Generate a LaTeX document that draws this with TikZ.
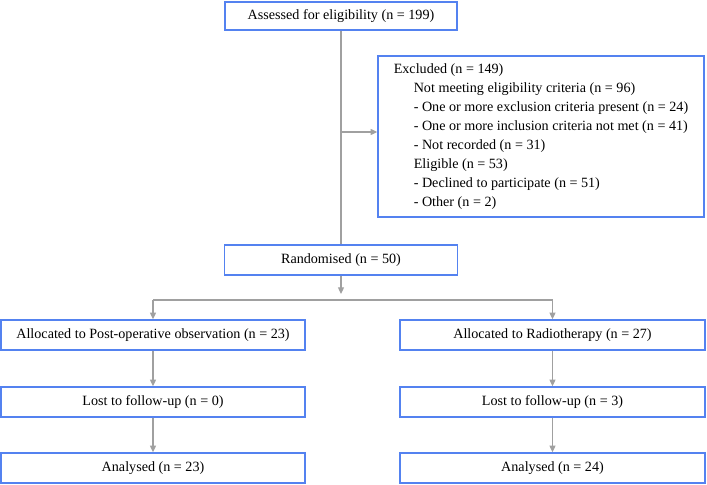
\documentclass[tikz,border=0pt]{standalone}
\usepackage{fontspec}
\setmainfont{Liberation Serif}
\usetikzlibrary{arrows.meta,positioning,calc}
\definecolor{boxblue}{RGB}{84,130,240}
\definecolor{linegray}{RGB}{160,160,160}

\begin{document}
\begin{tikzpicture}[x=0.75pt, y=-0.75pt, font=\fontsize{10.6}{14.25}\selectfont,
  box/.style={draw=boxblue, line width=1.1pt, fill=white, inner sep=0pt, minimum height=22.5pt},
  link/.style={draw=linegray, line width=0.9pt},
  arr/.style={link, -{Triangle[length=5pt,width=4.5pt]}}]
\useasboundingbox (0,0) rectangle (707,485);
\node[box, minimum width=174pt, minimum height=21pt] (assessed) at (341,16)
  {Assessed for eligibility (n = 199)};
\node[box, minimum width=244.5pt, minimum height=120.75pt, align=left]
  (excluded) at (541,136.5)
  {Excluded (n = 149)\\
   \hspace*{15pt}Not meeting eligibility criteria (n = 96)\\
   \hspace*{15pt}- One or more exclusion criteria present (n = 24)\hspace*{11pt}\\
   \hspace*{15pt}- One or more inclusion criteria not met (n = 41)\\
   \hspace*{15pt}- Not recorded (n = 31)\\
   \hspace*{15pt}Eligible (n = 53)\\
   \hspace*{15pt}- Declined to participate (n = 51)\\
   \hspace*{15pt}- Other (n = 2)};
\node[box, minimum width=174.75pt] (randomised) at (341,260) {Randomised (n = 50)};
\node[box, minimum width=228pt] (allocobs) at (153,335)
  {Allocated to Post-operative observation (n = 23)};
\node[box, minimum width=228.75pt] (allocrt) at (552.5,335)
  {Allocated to Radiotherapy (n = 27)};
\node[box, minimum width=228pt] (lostobs) at (153,402) {Lost to follow-up (n = 0)};
\node[box, minimum width=228.75pt] (lostrt) at (552.5,402) {Lost to follow-up (n = 3)};
\node[box, minimum width=228pt] (analysedobs) at (153,468) {Analysed (n = 23)};
\node[box, minimum width=228.75pt] (analysedrt) at (552.5,468) {Analysed (n = 24)};
% enrolment
\coordinate (exsplit) at (341,132);
\draw[link] (assessed) -- (randomised);
\draw[arr] (exsplit) -- (excluded.west |- exsplit);
% allocation
\coordinate (rtip) at (341,294);
\coordinate (split) at (341,300);
\draw[arr] (randomised) -- (rtip);
\draw[link] (allocobs.north |- split) -- (allocrt.north |- split);
\draw[arr] (allocobs.north |- split) -- (allocobs);
\draw[arr] (allocrt.north |- split) -- (allocrt);
\foreach \c in {obs,rt} {
  \draw[arr] (alloc\c) -- (lost\c);
  \draw[arr] (lost\c) -- (analysed\c);
}
\end{tikzpicture}
\end{document}
